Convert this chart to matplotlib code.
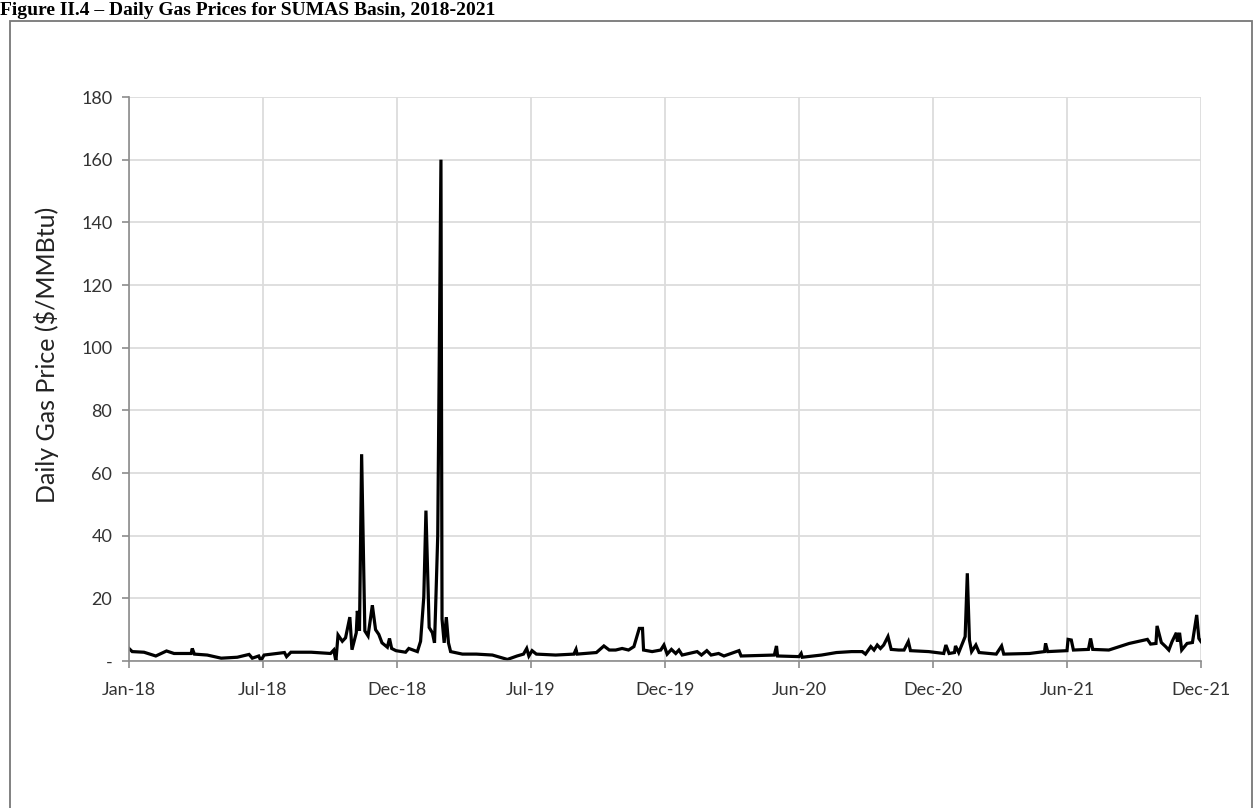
import numpy as np
import matplotlib.pyplot as plt
from matplotlib.patches import Rectangle

# DATA
# x = trading-day index (0 = first trading day of Jan-18), y = daily price ($/MMBtu)
day = [0, 3, 14, 25, 35, 42, 58, 59, 61, 73, 86, 101, 112, 115, 121, 123, 126,
       145, 147, 151, 170, 188, 191, 193, 195, 199, 202, 206, 208, 212, 213,
       215, 217, 220, 223, 227, 230, 233, 236, 241, 243, 245, 249, 258, 261,
       269, 272, 275, 277, 280, 283, 285, 286, 288, 291, 292, 294, 296, 298,
       300, 311, 324, 339, 353, 362, 368, 371, 373, 376, 380, 398, 415, 417,
       418, 436, 443, 448, 454, 460, 466, 471, 476, 479, 480, 488, 496, 499,
       502, 506, 510, 513, 516, 530, 534, 539, 543, 550, 555, 569, 571, 602,
       604, 605, 625, 627, 628, 646, 660, 674, 684, 687, 692, 695, 698, 701,
       704, 708, 711, 718, 723, 727, 729, 746, 760, 762, 765, 770, 771, 774,
       780, 782, 784, 786, 790, 793, 809, 814, 816, 840, 854, 855, 857, 875,
       876, 879, 881, 895, 897, 899, 914, 933, 945, 950, 953, 958, 959, 963,
       967, 970, 973, 977, 978, 980, 982, 987, 992, 996, 998, 1000]
price = [4.0, 3.0, 2.8, 1.6, 3.2, 2.4, 2.4, 4.0, 2.2, 1.9, 0.9, 1.2, 2.1, 0.9,
         1.6, 0.1, 1.9, 2.7, 1.4, 2.8, 2.8, 2.4, 3.5, 0.0, 8.3, 6.3, 7.4, 14.0,
         3.6, 9.0, 16.0, 9.6, 66.0, 9.6, 8.0, 17.8, 10.0, 8.5, 5.8, 4.4, 7.2,
         4.0, 3.3, 2.8, 4.0, 3.0, 6.3, 20.5, 48.0, 10.7, 9.0, 5.8, 16.7, 40.0,
         160.0, 13.4, 5.8, 14.0, 5.8, 3.0, 2.2, 2.2, 1.9, 0.5, 1.6, 2.2, 4.0,
         1.6, 3.3, 2.2, 1.9, 2.2, 3.7, 2.2, 2.7, 4.8, 3.5, 3.5, 4.0, 3.5, 4.6,
         10.4, 10.4, 3.5, 3.0, 3.5, 5.1, 2.2, 3.7, 2.4, 3.5, 1.9, 3.0, 1.9, 3.3,
         1.9, 2.4, 1.6, 3.3, 1.6, 1.9, 4.8, 1.6, 1.4, 2.4, 1.2, 1.9, 2.7, 3.0,
         3.0, 2.2, 4.6, 3.5, 5.1, 4.0, 5.1, 7.8, 3.7, 3.5, 3.5, 6.2, 3.3, 3.0,
         2.4, 5.1, 2.4, 2.7, 4.8, 2.7, 7.8, 28.0, 6.7, 3.0, 5.1, 2.7, 2.2, 4.8,
         2.2, 2.4, 3.0, 5.6, 3.0, 3.3, 6.9, 6.7, 3.5, 3.7, 7.2, 3.7, 3.5, 5.6,
         6.5, 6.9, 5.4, 5.6, 11.2, 5.9, 4.6, 3.5, 6.2, 9.0, 6.2, 9.0, 3.5, 5.6,
         5.9, 14.7, 7.2, 6.2]

x_tick_pos = [0, 125, 250, 375, 500, 625, 750, 875, 1000]
x_tick_labels = ['Jan-18', 'Jul-18', 'Dec-18', 'Jul-19', 'Dec-19',
                 'Jun-20', 'Dec-20', 'Jun-21', 'Dec-21']
y_tick_pos = [0, 20, 40, 60, 80, 100, 120, 140, 160, 180]
y_tick_labels = ['-', '20', '40', '60', '80', '100', '120', '140', '160', '180']

title = 'Figure II.4 \u2013 Daily Gas Prices for SUMAS Basin, 2018-2021'
ylabel = 'Daily Gas Price ($/MMBtu)'

# *******************************

# PLOT
fig = plt.figure(figsize=(12.56, 8.08), dpi=100)
ax = fig.add_axes([129/1256, 1 - 661/808, (1201 - 129)/1256, (661 - 97)/808])

ax.plot(day, price, color='black', lw=2.3, solid_joinstyle='miter')

ax.set_xlim(0, 1000)
ax.set_ylim(0, 180)
ax.set_xticks(x_tick_pos)
ax.set_xticklabels(x_tick_labels)
ax.set_yticks(y_tick_pos)
ax.set_yticklabels(y_tick_labels)

ax.grid(True, color='#dcdcdc', lw=1.3)
ax.set_axisbelow(True)
for s in ['top', 'right']:
    ax.spines[s].set_visible(False)
for s in ['left', 'bottom']:
    ax.spines[s].set_color('#8c8c8c')
    ax.spines[s].set_linewidth(1.2)

ax.tick_params(axis='both', colors='#8c8c8c', length=5, width=1.2,
               labelcolor='#333333', labelsize=13)
ax.tick_params(axis='x', pad=10)
ax.tick_params(axis='y', pad=7)
for lab in ax.get_xticklabels() + ax.get_yticklabels():
    lab.set_fontfamily('Lato')

ax.set_ylabel(ylabel, fontsize=18, fontfamily='Lato', color='#222222')
ax.yaxis.set_label_coords(-0.065, 0.543)

# outer frame and cut-off title
fig.patches.append(Rectangle((10/1256, -0.05), (1252 - 10)/1256, 1.05 - 21/808,
                             transform=fig.transFigure, fill=False,
                             ec='#777777', lw=1.3))
fig.text(0, 1 - 15/808, title, fontfamily='Liberation Serif', fontweight='bold',
         fontsize=14, va='baseline', ha='left')

fig.savefig('out.png', dpi=100)
